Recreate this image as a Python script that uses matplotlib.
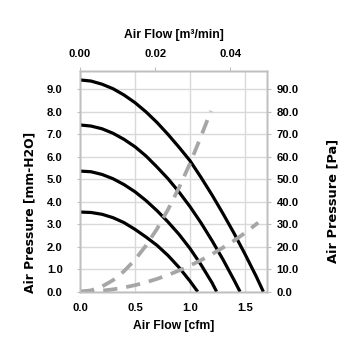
import matplotlib
matplotlib.use("Agg")
import matplotlib.pyplot as plt
from matplotlib.ticker import FormatStrFormatter

# ---- data ----
# P-Q fan curves: air flow [cfm] vs static pressure [mm-H2O]
c1_q = [0.0, 0.1, 0.2, 0.3, 0.4, 0.5, 0.6, 0.7, 0.8, 0.9, 1.0, 1.1, 1.2, 1.3, 1.4, 1.5, 1.6, 1.667]
c1_p = [9.41, 9.36, 9.22, 9.02, 8.74, 8.40, 7.99, 7.52, 6.99, 6.42, 5.82, 5.08, 4.30, 3.47, 2.60, 1.67, 0.70, 0.0]

c2_q = [0.0, 0.1, 0.2, 0.3, 0.4, 0.5, 0.6, 0.7, 0.8, 0.9, 1.0, 1.1, 1.2, 1.3, 1.4, 1.455]
c2_p = [7.41, 7.36, 7.24, 7.04, 6.77, 6.44, 6.03, 5.54, 5.02, 4.43, 3.78, 3.06, 2.27, 1.43, 0.52, 0.0]

c3_q = [0.0, 0.1, 0.2, 0.3, 0.4, 0.5, 0.6, 0.7, 0.8, 0.9, 1.0, 1.1, 1.2, 1.242]
c3_p = [5.36, 5.33, 5.21, 5.02, 4.76, 4.44, 4.05, 3.60, 3.10, 2.55, 1.92, 1.20, 0.40, 0.0]

c4_q = [0.0, 0.1, 0.2, 0.3, 0.4, 0.5, 0.6, 0.7, 0.8, 0.9, 1.0, 1.07]
c4_p = [3.54, 3.52, 3.44, 3.29, 3.07, 2.77, 2.43, 2.06, 1.61, 1.08, 0.47, 0.0]

# system impedance curves (dashed)
s1_q = [0.0, 0.1, 0.2, 0.3, 0.4, 0.5, 0.6, 0.7, 0.8, 0.9, 1.0, 1.1, 1.19]
s1_p = [0.0, 0.06, 0.23, 0.51, 0.91, 1.42, 2.05, 2.79, 3.65, 4.62, 5.7, 6.9, 8.03]

s2_q = [0.0, 0.1, 0.2, 0.3, 0.4, 0.5, 0.6, 0.7, 0.8, 0.9, 1.0, 1.1, 1.2, 1.3, 1.4, 1.5, 1.62]
s2_p = [0.0, 0.012, 0.046, 0.104, 0.186, 0.29, 0.418, 0.568, 0.742, 0.94, 1.16, 1.40, 1.67, 1.96, 2.27, 2.61, 3.07]

left_ticks = [0, 1, 2, 3, 4, 5, 6, 7, 8, 9]
right_ticks = [0, 10, 20, 30, 40, 50, 60, 70, 80, 90]
bottom_ticks = [0.0, 0.5, 1.0, 1.5]
top_ticks = [0.0, 0.02, 0.04]

# ---- style ----
tick_font = ['Liberation Sans', 'DejaVu Sans']
grid_c = '#d9d9d9'
spine_c = '#bfbfbf'

fig = plt.figure(figsize=(3.55, 3.55), dpi=100)
ax = fig.add_axes([80 / 355, 63.3 / 355, 187 / 355, 221 / 355])

for q, p in [(c1_q, c1_p), (c2_q, c2_p), (c3_q, c3_p), (c4_q, c4_p)]:
    ax.plot(q, p, color='black', lw=2.3, solid_capstyle='butt',
            solid_joinstyle='round', zorder=3)
for q, p in [(s1_q, s1_p), (s2_q, s2_p)]:
    ln, = ax.plot(q, p, color='#a6a6a6', lw=2.7, zorder=4, dash_capstyle='butt')
    ln.set_dashes([3.8, 2.4])

ax.set_xlim(0, 1.7)
ax.set_ylim(0, 9.82)
ax.set_xticks(bottom_ticks)
ax.set_yticks(left_ticks)
ax.xaxis.set_major_formatter(FormatStrFormatter('%.1f'))
ax.yaxis.set_major_formatter(FormatStrFormatter('%.1f'))
ax.grid(True, color=grid_c, lw=1.0, zorder=0)
ax.set_axisbelow(True)
ax.tick_params(axis='x', length=0, pad=8)
ax.tick_params(axis='y', length=2.5, width=0.8, color=spine_c, pad=10)

ax2 = ax.twinx()
ax2.set_ylim(0, 98.2)
ax2.set_yticks(right_ticks)
ax2.yaxis.set_major_formatter(FormatStrFormatter('%.1f'))
ax2.tick_params(axis='y', length=3, width=0.8, color=spine_c, pad=4)

ax3 = ax.twiny()
ax3.set_xlim(0, 0.0498)
ax3.set_xticks(top_ticks)
ax3.xaxis.set_major_formatter(FormatStrFormatter('%.2f'))
ax3.tick_params(axis='x', length=3, width=0.8, color=spine_c, pad=5.5)

for a in (ax, ax2, ax3):
    for s in a.spines.values():
        s.set_color(spine_c)
        s.set_linewidth(1.0)
    for lab in a.get_xticklabels() + a.get_yticklabels():
        lab.set_fontfamily(tick_font)
        lab.set_fontweight('bold')
        lab.set_fontsize(8.1)

ax.set_xlabel('Air Flow [cfm]', family=tick_font, weight='bold', fontsize=8.7)
ax.xaxis.set_label_coords(0.5, (291.7 - 320) / 221)
ax3.set_xlabel('Air Flow [m³/min]', family=tick_font, weight='bold', fontsize=8.7)
ax3.xaxis.set_label_coords(0.5, (291.7 - 38) / 221)

ax.set_ylabel('Air Pressure [mm-H2O]', family='DejaVu Sans', weight='bold', fontsize=8.9)
ax.yaxis.set_label_coords((36 - 80) / 187, (291.7 - 212.5) / 221)
ax2.set_ylabel('Air Pressure [Pa]', family='DejaVu Sans', weight='bold', fontsize=9.4, rotation=90)
ax2.yaxis.set_label_coords((326 - 80) / 187, (291.7 - 201) / 221)

fig.savefig('out.png', dpi=100)
